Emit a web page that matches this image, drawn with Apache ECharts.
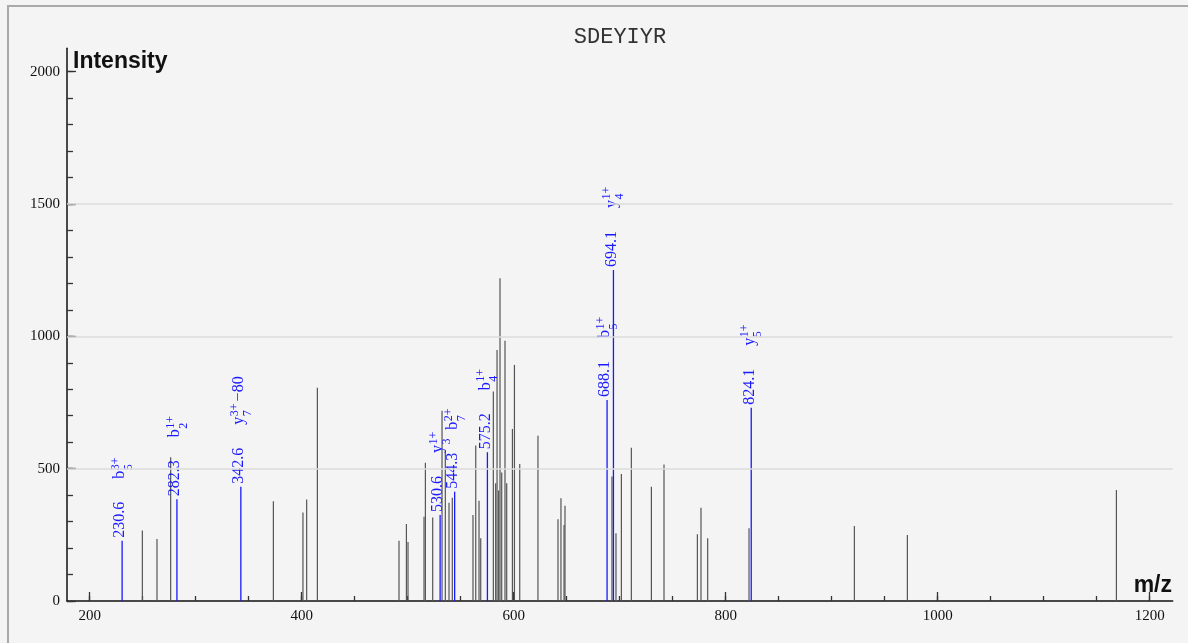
<!DOCTYPE html>
<html><head><meta charset="utf-8">
<script src="https://cdn.jsdelivr.net/npm/echarts@6/dist/echarts.min.js"></script>
<style>
html,body{margin:0;padding:0;background:#f4f4f4;overflow:hidden}
#frame{position:absolute;left:7px;top:5px;width:1400px;height:900px;border-left:2px solid #a9a9a9;border-top:2px solid #a9a9a9;}
#chart{position:absolute;left:0;top:0;width:1188px;height:643px;}
</style></head><body><div id="frame"></div><div id="chart"></div>
<script>
const chartTitle = 'SDEYIYR';
const yAxisName = 'Intensity';
const xAxisName = 'm/z';
const xMin = 178.6, xMax = 1221.7, yMin = 0, yMax = 2088;
const xTickLabels = [200, 400, 600, 800, 1000, 1200];
const xMinorTicks = [200, 250, 300, 350, 400, 450, 500, 550, 600, 650, 700, 750, 800, 850, 900, 950, 1000, 1050, 1100, 1150, 1200];
const yTickLabels = [0, 500, 1000, 1500, 2000];
const yMinorTicks = [0, 100, 200, 300, 400, 500, 600, 700, 800, 900, 1000, 1100, 1200, 1300, 1400, 1500, 1600, 1700, 1800, 1900, 2000];
const gridValues = [500, 1000, 1500];

// unannotated peaks
const peakMz = [249.7, 263.5, 276.4, 373.3, 401.2, 404.7, 414.8, 491.8, 498.8, 500.3, 515.4, 516.7, 523.6, 532.4, 535.5, 539.0, 542.1, 561.6, 564.2, 567.3, 568.9, 580.8, 583.0, 584.3, 585.8, 587.1, 588.7, 591.8, 593.4, 598.8, 600.7, 605.7, 622.9, 641.8, 644.6, 647.5, 648.4, 692.7, 696.5, 701.6, 711.0, 729.9, 741.8, 773.3, 776.7, 783.0, 822.0, 921.4, 971.4, 1168.6];
const peakIntensity = [266, 234, 543, 377, 334, 383, 806, 228, 291, 223, 318, 522, 315, 719, 570, 371, 390, 325, 587, 379, 237, 791, 445, 948, 417, 1219, 485, 983, 445, 650, 892, 518, 624, 309, 388, 287, 360, 470, 256, 480, 579, 432, 516, 252, 352, 237, 275, 283, 249, 419];

// annotated peaks
const ionMz = [230.6, 282.3, 342.6, 530.6, 544.3, 575.2, 688.1, 694.1, 824.1];
const ionIntensity = [228, 384, 432, 325, 413, 562, 759, 1250, 730];
const ionBase = ['b', 'b', 'y', 'y', 'b', 'b', 'b', 'y', 'y'];
const ionSub = ['5', '2', '7', '3', '7', '4', '5', '4', '5'];
const ionSup = ['3+', '1+', '3+', '1+', '2+', '1+', '1+', '1+', '1+'];
const ionSuffix = ['', '', '\u221280', '', '', '', '', '', ''];

const BLUE = '#1a1aff';
const GRAY = '#555';
const SERIF = '"Liberation Serif", "DejaVu Serif", serif';
const mctx = document.createElement('canvas').getContext('2d');
function tw(t, size) { mctx.font = size + 'px ' + SERIF; return mctx.measureText(t).width; }

function renderPeak(params, api) {
  const p0 = api.coord([api.value(0), 0]);
  const p1 = api.coord([api.value(0), api.value(1)]);
  return {type: 'line', shape: {x1: p0[0], y1: p0[1], x2: p1[0], y2: p1[1]},
    style: {stroke: GRAY, lineWidth: 1.2}};
}
function txt(t, x, yBase, size) {
  return {type: 'text', x: x, y: yBase - 0.305 * size,
    style: {text: t, font: size + 'px ' + SERIF, fill: BLUE, align: 'left', verticalAlign: 'middle'}};
}
function renderIon(params, api) {
  const i = params.dataIndex;
  const p0 = api.coord([api.value(0), 0]);
  const p1 = api.coord([api.value(0), api.value(1)]);
  const bY = 3;
  const kids = [];
  kids.push(txt(ionMz[i].toFixed(1), 3, bY, 16));
  let x = 62;
  kids.push(txt(ionBase[i], x, bY, 16));
  x += tw(ionBase[i], 16) + 0.5;
  kids.push(txt(ionSup[i], x, bY - 5.5, 12));
  kids.push(txt(ionSub[i], x, bY + 7.5, 12));
  x += Math.max(tw(ionSup[i], 12), tw(ionSub[i], 12)) + 2;
  if (ionSuffix[i]) kids.push(txt(ionSuffix[i], x, bY, 16));
  return {type: 'group', children: [
    {type: 'line', shape: {x1: p0[0], y1: p0[1], x2: p1[0], y2: p1[1]}, style: {stroke: BLUE, lineWidth: 1.3}},
    {type: 'group', x: p1[0], y: p1[1], rotation: Math.PI / 2, children: kids}
  ]};
}

const plain = v => String(v);
const gridPos = {left: 67, right: 15.3, top: 48.3, bottom: 42};
const chart = echarts.init(document.getElementById('chart'), null, {renderer: 'canvas'});
chart.setOption({
  animation: false,
  backgroundColor: 'transparent',
  grid: [Object.assign({}, gridPos), Object.assign({}, gridPos)],
  xAxis: [{
    gridIndex: 0, type: 'value', min: xMin, max: xMax, position: 'bottom',
    axisLine: {show: true, onZero: false, lineStyle: {color: '#111', width: 1.5}},
    axisTick: {show: true, inside: true, length: 9, customValues: xTickLabels, lineStyle: {color: '#333', width: 1.3}},
    axisLabel: {show: true, customValues: xTickLabels, formatter: plain, margin: 8, color: '#111', fontSize: 15, fontFamily: SERIF},
    splitLine: {show: false}
  }, {
    gridIndex: 1, type: 'value', min: xMin, max: xMax, position: 'bottom',
    axisLine: {show: false},
    axisTick: {show: true, inside: true, length: 5, customValues: xMinorTicks, lineStyle: {color: '#333', width: 1.3}},
    axisLabel: {show: false},
    splitLine: {show: false}
  }],
  yAxis: [{
    gridIndex: 0, type: 'value', min: yMin, max: yMax, position: 'left',
    axisLine: {show: true, onZero: false, lineStyle: {color: '#111', width: 1.5}},
    axisTick: {show: true, inside: true, length: 9, customValues: yTickLabels, lineStyle: {color: '#333', width: 1.3}},
    axisLabel: {show: true, customValues: yTickLabels, formatter: plain, margin: 7, color: '#111', fontSize: 15, fontFamily: SERIF},
    splitLine: {show: false}
  }, {
    gridIndex: 1, type: 'value', min: yMin, max: yMax, position: 'left',
    axisLine: {show: false},
    axisTick: {show: true, inside: true, length: 6, customValues: yMinorTicks, lineStyle: {color: '#333', width: 1.3}},
    axisLabel: {show: false},
    splitLine: {show: false}
  }],
  graphic: [
    {type: 'text', x: 620, y: 37, style: {text: chartTitle, font: '22px "Liberation Mono", monospace', fill: '#333', align: 'center', verticalAlign: 'middle'}},
    {type: 'text', x: 73, y: 62, style: {text: yAxisName, font: 'bold 23px "Liberation Sans", Arial, sans-serif', fill: '#111', align: 'left', verticalAlign: 'middle'}},
    {type: 'text', x: 1172, y: 586, style: {text: xAxisName, font: 'bold 23px "Liberation Sans", Arial, sans-serif', fill: '#111', align: 'right', verticalAlign: 'middle'}}
  ],
  series: [{
    type: 'line', xAxisIndex: 0, yAxisIndex: 0, data: [], z: 1, silent: true,
    markLine: {silent: true, symbol: ['none', 'none'], label: {show: false},
      lineStyle: {color: '#dcdcdc', width: 1.5, type: 'solid'},
      data: gridValues.map(v => ({yAxis: v}))}
  }, {
    type: 'custom', xAxisIndex: 0, yAxisIndex: 0, z: 2, silent: true,
    renderItem: renderPeak, encode: {x: 0, y: 1},
    data: peakMz.map((m, i) => [m, peakIntensity[i]])
  }, {
    type: 'custom', xAxisIndex: 0, yAxisIndex: 0, z: 3, silent: true, clip: false,
    renderItem: renderIon, encode: {x: 0, y: 1},
    data: ionMz.map((m, i) => [m, ionIntensity[i]])
  }]
});
</script></body></html>
